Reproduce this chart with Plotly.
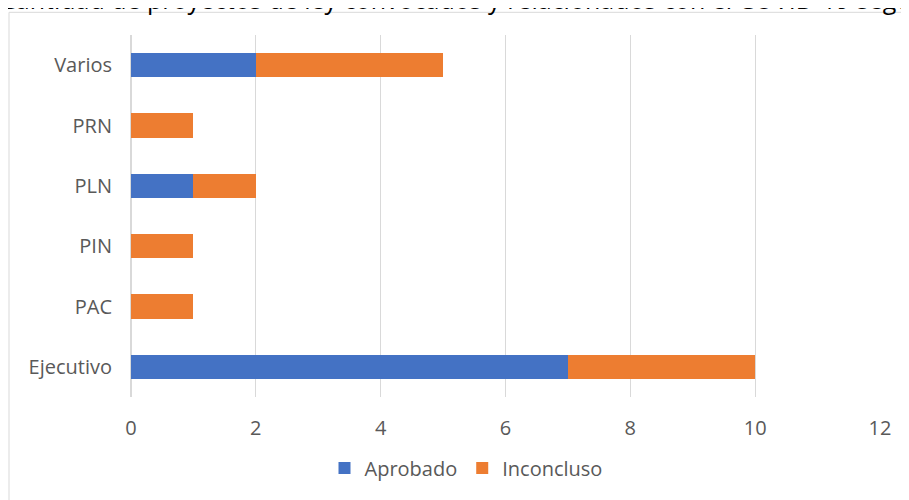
import plotly.graph_objects as go

categories = ["Ejecutivo", "PAC", "PIN", "PLN", "PRN", "Varios"]
aprobado = [7, 0, 0, 1, 0, 2]
inconcluso = [3, 1, 1, 1, 1, 3]
series_names = ["Aprobado", "Inconcluso"]
title_text = "Cantidad de proyectos de ley convocados y relacionados con el COVID-19 según proponente"

fig = go.Figure()
fig.add_trace(go.Bar(y=categories, x=aprobado, name=series_names[0], orientation="h",
                     marker=dict(color="#4472C4", line=dict(width=0)), width=0.4))
fig.add_trace(go.Bar(y=categories, x=inconcluso, name=series_names[1], orientation="h",
                     marker=dict(color="#ED7D31", line=dict(width=0)), width=0.4))

OFF = 8  # page offset of the figure (body margin)
W, H = 909 - OFF, 500 - OFF
L, R, T, B = 131 - OFF, 29, 35 - OFF, 98
pw, ph = W - L - R, H - T - B

def px(x):
    return (x - OFF - L) / pw

def py(y):
    return (H - B - (y - OFF)) / ph

FS = 20
fig.update_layout(
    width=W, height=H,
    barmode="stack",
    margin=dict(l=L, r=R, t=T, b=B),
    paper_bgcolor="white", plot_bgcolor="white",
    font=dict(family="Open Sans", size=FS, color="#595959"),
    showlegend=True,
    legend=dict(orientation="h", x=px(466), xanchor="center", y=py(474), yanchor="middle",
                font=dict(size=FS, color="#595959"), traceorder="normal",
                itemwidth=30, tracegroupgap=0),
    xaxis=dict(range=[0, 12], dtick=2, showgrid=True, gridcolor="#D9D9D9", gridwidth=1,
               zeroline=True, zerolinecolor="#D9D9D9", showline=False, ticks="",
               ticklabelstandoff=17, tickfont=dict(size=FS, color="#595959")),
    yaxis=dict(categoryorder="array", categoryarray=categories, showgrid=False,
               showline=False, ticks="", ticklabelstandoff=18,
               tickfont=dict(size=FS, color="#595959")),
    shapes=[dict(type="rect", xref="paper", yref="paper", x0=px(9), x1=px(930), y0=py(520), y1=py(12),
                 line=dict(color="#D9D9D9", width=1), fillcolor="rgba(0,0,0,0)", layer="below")],
    annotations=[dict(text=title_text, xref="paper", yref="paper", x=px(-2), y=py(18),
                      xanchor="left", yanchor="bottom", showarrow=False,
                      font=dict(family="Open Sans", size=25, color="#000000"))],
)

fig.write_html("out.html")
